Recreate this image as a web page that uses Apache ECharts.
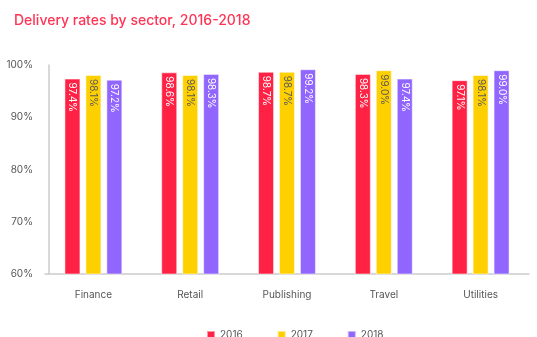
<!DOCTYPE html>
<html><head><meta charset="utf-8">
<script src="https://cdn.jsdelivr.net/npm/echarts@6/dist/echarts.min.js"></script>
<style>html,body{margin:0;padding:0;background:#fff}#c{width:537px;height:337px}</style>
</head><body><div id="c"></div>
<script>
var categories = ['Finance', 'Retail', 'Publishing', 'Travel', 'Utilities'];
var seriesNames = ['2016', '2017', '2018'];
var values2016 = [97.4, 98.6, 98.7, 98.3, 97.1];
var values2017 = [98.1, 98.1, 98.7, 99.0, 98.1];
var values2018 = [97.2, 98.3, 99.2, 97.4, 99.0];
var yTicks = [60, 70, 80, 90, 100];

var colors = ['#ff2245', '#ffd000', '#9166ff'];
var labelColors = ['#ffffff', '#5a5a5a', '#ffffff'];
var allValues = [values2016, values2017, values2018];

var chart = echarts.init(document.getElementById('c'));
chart.setOption({
  animation: false,
  title: {
    text: 'Delivery rates by sector, 2016-2018',
    left: 9, top: 9,
    textStyle: { color: '#ff3354', fontSize: 14, fontWeight: 500, fontFamily: 'Inter' }
  },
  legend: {
    top: 325, left: 201, padding: 5,
    itemWidth: 8, itemHeight: 8, itemGap: 34,
    icon: 'rect',
    textStyle: { color: '#555', fontSize: 10, fontFamily: 'Inter' },
    data: seriesNames
  },
  grid: { left: 45, right: 8, top: 65, bottom: 63 },
  xAxis: {
    type: 'category', data: categories,
    axisLine: { lineStyle: { color: '#cccccc', width: 1.5 } },
    axisTick: { show: false },
    axisLabel: { color: '#555', fontSize: 10, margin: 16, fontFamily: 'Inter' }
  },
  yAxis: {
    type: 'value', min: yTicks[0], max: yTicks[yTicks.length - 1], interval: 10,
    offset: -4,
    axisLine: { show: true, lineStyle: { color: '#cccccc', width: 1.5 } },
    axisTick: { show: false },
    splitLine: { show: false },
    axisLabel: { color: '#555', fontSize: 10, margin: 16, formatter: '{value}%', fontFamily: 'Inter' }
  },
  series: seriesNames.map(function (n, i) {
    return {
      name: n, type: 'bar', data: allValues[i],
      barWidth: 16, barGap: '31%',
      itemStyle: { color: colors[i], borderColor: 'rgba(255,255,255,0.5)', borderWidth: 1 },
      label: {
        show: true, position: 'insideTop', rotate: -90, align: 'left', verticalAlign: 'middle',
        distance: 4, color: labelColors[i], fontSize: 10, fontFamily: 'Inter',
        formatter: function (p) { return p.value.toFixed(1) + '%'; }
      }
    };
  })
});
</script></body></html>
